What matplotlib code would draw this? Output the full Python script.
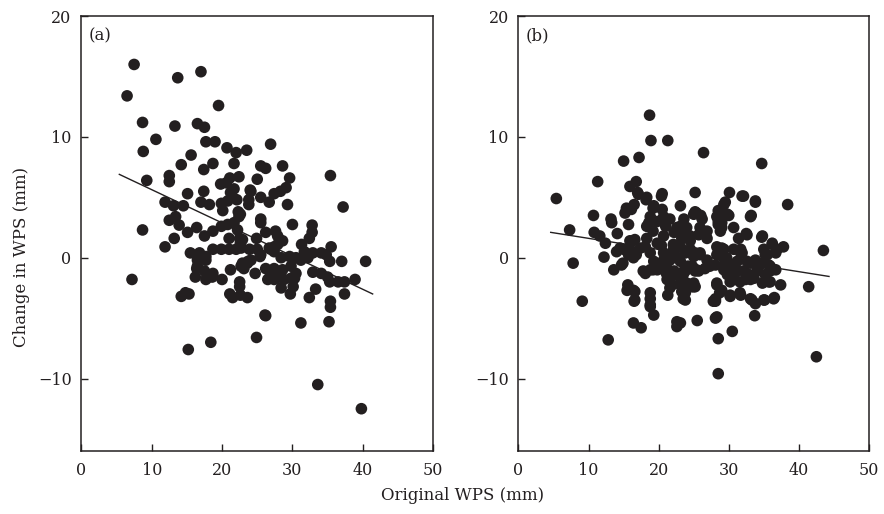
import matplotlib
matplotlib.use("Agg")
import matplotlib.pyplot as plt
import numpy as np

# ---------------- data ----------------
# Panel (a): original WPS (mm) vs change in WPS (mm)
a_x = [7.5, 13.7, 17.0, 6.5, 19.5, 8.7, 13.3, 16.5, 17.5, 10.6, 17.7, 19.0, 8.8, 20.7, 22.0, 23.5,
       15.6, 14.2, 18.7, 21.7, 17.4, 25.5, 12.5, 12.5, 9.3, 21.1, 22.4, 25.0, 19.8, 20.6, 21.7, 21.2,
       24.0, 23.8, 25.5, 17.4, 15.1, 11.9, 13.1, 14.5, 17.0, 18.2, 19.9, 20.8, 22.1, 20.1, 22.3, 13.4,
       12.5, 13.9, 8.7, 15.1, 16.4, 17.5, 18.7, 19.9, 20.8, 21.7, 22.2, 25.5, 13.2, 11.9, 21.0, 22.5,
       24.9, 15.5, 16.8, 17.7, 18.7, 19.9, 21.0, 22.0, 22.7, 23.9, 25.0, 16.5, 17.7, 16.5, 25.4, 23.7,
       22.7, 21.2, 24.7, 17.5, 18.7, 16.2, 17.7, 7.2, 20.0, 22.5, 22.5, 14.2, 15.3, 21.1, 21.5, 23.6,
       26.1, 24.9, 18.4, 15.2,
       26.9, 26.2, 28.6, 29.6, 35.4, 24.1, 23.8, 26.7, 27.4, 28.3, 29.1, 29.3, 37.2, 25.5,
       22.6, 30.0, 32.8, 32.8, 26.2, 27.6, 27.9, 28.6, 22.9, 31.3, 35.5, 26.9, 27.4, 31.7, 32.9, 34.1,
       34.8, 28.4, 29.6, 30.5, 31.5, 35.3, 37.0, 40.4, 23.6, 23.1, 26.2, 27.4, 28.6, 29.8, 32.9, 34.1,
       35.0, 26.5, 27.4, 30.3, 35.3, 36.5, 37.4, 38.9, 28.4, 30.1, 33.3, 29.7, 32.4, 37.4, 35.4, 35.4,
       26.2, 31.2, 35.2, 33.6, 39.8,
       22.4, 22.6, 27.9, 32.4, 16.7, 25.5, 26.7, 27.4, 31.2, 32.2, 16.4, 18.6, 22.9, 24.1, 26.9, 27.9,
       28.8, 29.8, 30.5, 14.8, 22.6]
a_y = [16.0, 14.9, 15.4, 13.4, 12.6, 11.2, 10.9, 11.1, 10.8, 9.8, 9.6, 9.6, 8.8, 9.1, 8.7, 8.9,
       8.5, 7.7, 7.8, 7.8, 7.3, 7.6, 6.8, 6.3, 6.4, 6.6, 6.7, 6.5, 6.1, 6.2, 5.7, 5.4,
       5.6, 4.8, 5.0, 5.5, 5.3, 4.6, 4.3, 4.3, 4.6, 4.4, 4.5, 4.7, 4.8, 3.9, 3.8, 3.4,
       3.1, 2.7, 2.3, 2.1, 2.5, 1.8, 2.2, 2.6, 2.75, 2.9, 2.3, 2.9, 1.6, 0.9, 1.6, 1.6,
       1.6, 0.4, 0.4, 0.1, 0.7, 0.7, 0.7, 0.7, 0.8, 0.7, 0.7, -0.2, -0.2, -0.7, 0.1, -0.3,
       -0.7, -1.0, -1.3, -1.1, -1.3, -1.6, -1.8, -1.8, -1.8, -2.0, -2.4, -3.2, -3.0, -3.0, -3.3, -3.3,
       -4.75, -6.6, -7.0, -7.6,
       9.4, 7.4, 7.6, 6.6, 6.8, 5.5, 4.4, 4.6, 5.3, 5.5, 5.8, 4.4, 4.2, 3.2,
       3.6, 2.75, 2.7, 2.1, 2.1, 2.2, 1.8, 1.4, 1.5, 1.1, 0.9, 0.7, 0.9, 0.5, 0.4, 0.4,
       0.25, 0.0, 0.1, 0.0, 0.05, -0.3, -0.3, -0.3, -0.45, -0.9, -0.9, -0.9, -1.0, -0.7, -1.2, -1.3,
       -1.6, -1.8, -1.8, -1.7, -2.0, -2.0, -2.0, -1.8, -2.5, -2.4, -2.6, -3.0, -3.3, -3.0, -3.6, -4.1,
       -4.8, -5.4, -5.3, -10.5, -12.5,
       3.4, 1.2, 1.1, 1.6, 0.25, 0.25, 0.8, 0.5, -0.2, 0.0, -0.9, -1.6, -0.45, -0.2, -1.3, -1.6,
       -1.8, -1.7, -1.3, -2.9, -3.1]

# Panel (b)
b_x = [18.7, 18.9, 21.3, 15.0, 17.2, 11.3, 15.9, 16.8, 17.0, 20.5, 5.4, 18.2, 23.1, 25.2, 16.5, 16.1,
       19.3, 20.5, 10.7, 13.2, 18.8, 20.7, 23.6, 25.0,
       26.4, 34.7, 30.1, 32.1, 29.5, 33.8, 38.4, 25.2, 26.0, 28.5, 28.3, 30.0, 33.2,
       13.3, 15.7, 18.6, 19.8, 21.0, 23.1, 7.3, 10.8, 11.6, 14.1, 12.4, 15.9, 18.3, 18.1, 19.8, 20.7,
       22.2, 23.3, 24.5, 14.0, 15.0, 17.4, 15.7, 16.4, 12.2, 18.8, 19.3, 20.7, 21.7, 22.6, 23.8, 25.0,
       7.8, 14.7, 13.6, 18.1, 18.8, 19.8, 21.2, 22.2, 23.6, 24.8, 21.2, 21.9, 23.6, 25.0, 15.6, 15.5,
       16.6, 18.8, 18.8, 21.3, 23.8, 23.8, 9.1, 16.5, 18.8, 19.3, 16.4, 17.5, 22.6, 22.6, 25.5, 12.8,
       25.9, 26.6, 26.9, 25.7, 28.5, 28.8, 29.0, 30.7, 31.4, 32.5, 34.7, 36.2, 36.9, 37.8, 35.0, 35.2,
       43.5, 23.1, 24.5, 25.9, 28.3, 29.3, 28.5, 29.7, 31.7, 31.9, 33.1, 34.3, 35.7, 35.9, 27.3, 29.3,
       30.2, 30.7, 32.1, 23.8, 25.7, 30.7, 32.4, 33.6, 35.7, 37.4, 41.4, 25.2, 23.8, 23.1, 28.3, 29.0,
       30.2, 31.7, 28.1, 27.8, 33.1, 33.8, 35.1, 36.5, 33.7, 28.3, 28.1, 23.1, 30.5, 28.5, 42.5, 28.5,
       17.1, 18.3, 20.4, 15.4, 15.2, 19.2, 18.3, 19.2, 21.6, 22.6, 24.0, 16.6, 20.4, 22.1, 23.3, 24.5,
       14.5, 15.9, 16.8, 20.7, 22.1, 24.0, 25.2, 20.2, 21.6, 23.1, 24.2, 25.2, 14.9, 17.8, 19.2, 21.1,
       22.3, 23.5, 21.6, 23.1, 24.0, 16.4, 16.6, 18.8, 21.6, 23.3, 23.5, 24.7,
       25.4, 26.2, 26.9, 29.3, 29.8, 28.8, 28.5, 29.0, 31.9, 33.8, 33.1, 32.6, 34.8, 36.2, 36.7, 35.5,
       24.5, 25.9, 26.9, 28.3, 29.0, 29.3, 30.7, 31.7, 31.2, 32.6, 33.8, 34.8, 35.9, 36.7, 25.4, 26.6,
       28.1, 29.3, 29.8, 31.2, 32.6, 34.0, 35.2, 25.0, 28.3, 30.2, 31.6, 33.1, 34.8, 35.9, 28.7, 28.1,
       30.2, 31.6, 33.3, 35.0, 36.4]
b_y = [11.8, 9.7, 9.7, 8.0, 8.3, 6.3, 5.9, 6.3, 5.4, 5.3, 4.9, 4.8, 4.3, 5.4, 4.4, 4.0,
       4.3, 4.0, 3.5, 3.2, 3.4, 3.4, 3.2, 3.6,
       8.7, 7.8, 5.4, 5.1, 4.6, 4.6, 4.4, 3.8, 3.5, 3.9, 3.4, 3.5, 3.5,
       2.9, 2.75, 2.9, 3.0, 2.6, 2.6, 2.3, 2.1, 1.8, 2.0, 1.2, 1.4, 1.6, 0.9, 1.2, 1.8,
       2.1, 2.2, 1.8, 0.5, 0.7, 0.8, 0.25, 0.0, 0.05, 0.4, -0.3, -0.2, 0.25, 0.0, 0.4, 0.1,
       -0.45, -0.6, -1.0, -1.3, -1.0, -1.0, -0.9, -1.1, -1.1, -0.7, -1.8, -2.25, -2.1, -2.4, -2.25, -2.7,
       -2.8, -2.9, -3.4, -3.1, -2.9, -3.5, -3.6, -3.6, -4.05, -4.75, -5.4, -5.8, -5.3, -5.7, -5.2, -6.8,
       2.5, 2.1, 1.6, 1.9, 2.75, 2.2, 2.9, 2.5, 1.6, 2.0, 1.7, 1.2, 0.7, 0.9, 0.7, 0.25,
       0.6, 0.9, 0.7, 0.4, 0.9, 0.7, 0.25, 0.0, 0.7, 0.4, -0.45, -0.7, -0.6, -1.1, -0.7, -0.7,
       -0.6, -1.0, -1.1, -1.1, -1.1, -1.6, -1.8, -1.7, -2.0, -2.25, -2.4, -2.4, -2.8, -2.25, -2.25, -2.7,
       -3.2, -3.1, -3.4, -3.6, -3.4, -3.8, -3.5, -3.3, -4.8, -4.9, -5.0, -5.4, -6.1, -6.7, -8.2, -9.6,
       5.25, 5.0, 5.1, 4.1, 3.7, 4.1, 2.6, 2.2, 3.2, 2.5, 2.5, 1.5, 1.0, 1.1, 1.6, 1.4,
       0.8, 0.7, 0.25, 0.4, 0.7, 0.5, 0.4, -0.6, -0.2, -0.3, -0.7, -1.1, -0.45, -1.1, -1.0, -1.3,
       -1.4, -1.4, -2.0, -2.1, -2.1, -2.7, -3.5, -3.9, -2.5, -2.8, -3.4, -2.4,
       3.7, 3.2, 2.2, 4.4, 3.6, 3.6, 3.0, 2.5, 5.1, 4.7, 3.4, 1.9, 1.8, 1.1, 0.4, 0.25,
       0.5, 0.25, -0.2, 0.25, 0.8, 0.0, 0.7, 0.4, -0.3, -0.3, -0.2, -0.45, -0.7, -1.0, -1.0, -0.9,
       -0.6, -1.0, -1.4, -1.1, -1.3, -1.1, -1.4, -2.1, -2.1, -2.0, -2.0, -1.8, -2.1, -2.0, -2.9, -3.6,
       -3.1, -2.9, -3.5, -3.5, -3.4]

# fitted regression lines (end points)
line_a_x = [5.4, 41.4]
line_a_y = [6.9, -3.0]
line_b_x = [4.6, 44.3]
line_b_y = [2.1, -1.55]

panel_labels = ["(a)", "(b)"]
x_ticks = [0, 10, 20, 30, 40, 50]
y_ticks = [-10, 0, 10, 20]
x_label = "Original WPS (mm)"
y_label = "Change in WPS (mm)"

# ---------------- drawing ----------------
plt.rcParams['font.family'] = ['DejaVu Serif']
dot_color = '#231f20'

fig = plt.figure(figsize=(8.84, 5.14), dpi=100)
ax_a = fig.add_axes([0.092, 0.1226, 0.398, 0.846])
ax_b = fig.add_axes([0.5865, 0.1226, 0.3965, 0.846])

panels = [(ax_a, a_x, a_y, line_a_x, line_a_y), (ax_b, b_x, b_y, line_b_x, line_b_y)]
for (ax, xs, ys, lx, ly), lab in zip(panels, panel_labels):
    ax.scatter(xs, ys, s=70, color=dot_color, edgecolors='none', zorder=2)
    ax.plot(lx, ly, color='#231f20', linewidth=1.0, zorder=3)
    ax.set_xlim(0, 50)
    ax.set_ylim(-16, 20)
    ax.set_xticks(x_ticks)
    ax.set_yticks(y_ticks)
    ax.tick_params(direction='in', length=5, width=1, labelsize=11.5, pad=7,
                   colors='#231f20')
    ax.tick_params(axis='x', pad=8)
    for sp in ax.spines.values():
        sp.set_linewidth(1.1)
        sp.set_color('#231f20')
    ax.text(0.02, 0.975, lab, transform=ax.transAxes, ha='left', va='top',
            fontsize=12, color='#231f20')

fig.text(463 / 884, 1 - 495 / 514, x_label, ha='center', va='center',
         fontsize=12, color='#231f20')
fig.text(22 / 884, 1 - 257 / 514, y_label, ha='center', va='center',
         rotation=90, fontsize=12, color='#231f20')

fig.savefig("out.png", dpi=100)
